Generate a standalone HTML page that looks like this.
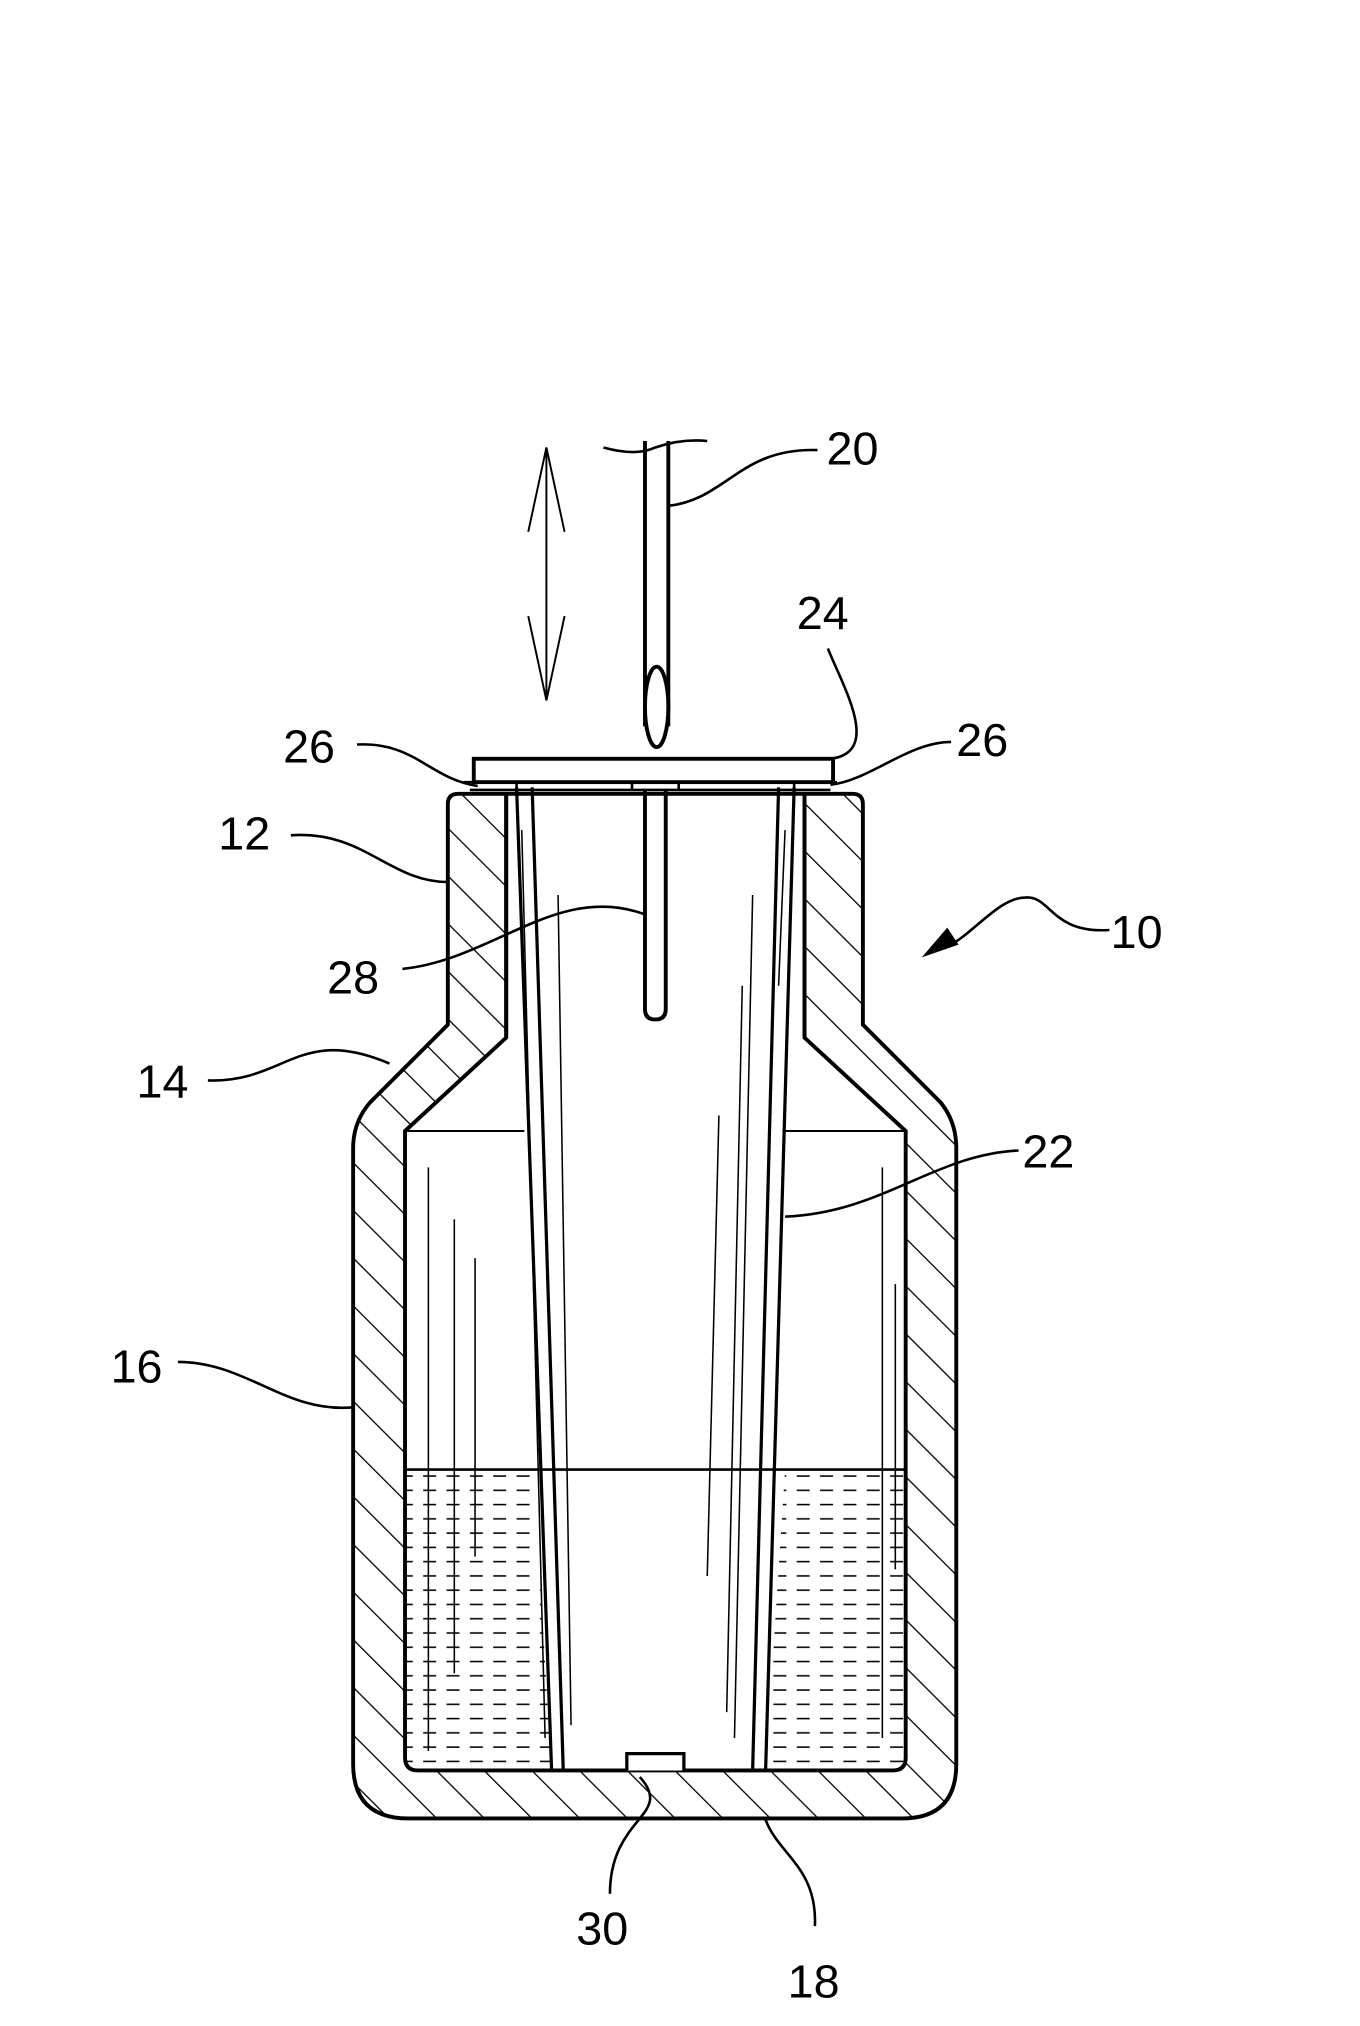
<!DOCTYPE html>
<html><head><style>html,body{margin:0;padding:0;background:#fff}svg{display:block}</style></head>
<body>
<svg width="1360" height="2026" viewBox="0 0 1048 1562" xmlns="http://www.w3.org/2000/svg">
<defs>
<pattern id="h" patternUnits="userSpaceOnUse" width="26" height="26" patternTransform="rotate(-45)">
<line x1="0" y1="0" x2="0" y2="26" stroke="#000" stroke-width="2"/>
</pattern>
<pattern id="d" patternUnits="userSpaceOnUse" width="18" height="11">
<line x1="2" y1="5" x2="12" y2="5" stroke="#000" stroke-width="1.2"/>
</pattern>
<clipPath id="liq"><path d="M312,1133 L698,1133 L698,1365 L590,1365 L605,1133 L411,1133 L425,1365 L312,1365 Z"/></clipPath>
</defs>
<g fill="none" stroke="#000" stroke-width="3">
<path fill="url(#h)" fill-rule="evenodd" d="M353,612 L657,612 Q665,612 665,620 L665,790 L725,850 Q737,865 737,885 L737,1360 Q737,1402 695,1402 L315,1402 Q272,1402 272,1360 L272,885 Q272,865 285,850 L345,790 L345,620 Q345,612 353,612 Z M390,612 L620,612 L620,800 L698,872 L698,1355 Q698,1365 688,1365 L322,1365 Q312,1365 312,1355 L312,872 L390,800 Z"/>
<path d="M390,800 L390,612 M620,800 L620,612" />
<rect x="312" y="1133" width="386" height="232" fill="url(#d)" stroke="none" clip-path="url(#liq)"/>
<line x1="312" y1="1133" x2="698" y2="1133" stroke-width="2"/>
<line x1="312" y1="872" x2="404" y2="872" stroke-width="1.5"/>
<line x1="603" y1="872" x2="698" y2="872" stroke-width="1.5"/>
<path d="M398,607 L425,1365 M410,607 L434,1365 M612,607 L590,1365 M600,607 L580,1365" stroke-width="2.5"/>
<path d="M425,1365 L483,1365 L483,1352 L527,1352 L527,1365 L590,1365" stroke-width="2.5" fill="#fff"/>
<g stroke-width="1.2">
<line x1="402" y1="640" x2="420" y2="1340"/><line x1="430" y1="690" x2="440" y2="1330"/>
<line x1="605" y1="640" x2="600" y2="760"/><line x1="580" y1="690" x2="566" y2="1340"/>
<line x1="572" y1="760" x2="560" y2="1320"/><line x1="554" y1="860" x2="545" y2="1215"/>
<line x1="350" y1="940" x2="350" y2="1290"/><line x1="366" y1="970" x2="366" y2="1200"/>
<line x1="330" y1="900" x2="330" y2="1350"/><line x1="680" y1="900" x2="680" y2="1340"/>
<line x1="690" y1="990" x2="690" y2="1210"/>
</g>
<rect x="365" y="585" width="277" height="18" fill="#fff"/>
<path d="M357,603 L645,603 M362,609 L640,609 M398,603 L398,609 M612,603 L612,609 M487,603 L487,609 M523,603 L523,609" stroke-width="2"/>
<path d="M497,609 L497,778 Q497,786 505,786 Q513,786 513,778 L513,609"/>
<path d="M497,340 L497,560 M515,340 L515,560"/>
<ellipse cx="506" cy="545" rx="9" ry="31" fill="#fff"/>
<path d="M465,345 Q490,352 505,345 Q525,338 545,340" stroke-width="2"/>
<line x1="421" y1="345" x2="421" y2="540" stroke-width="1.5"/>
<path d="M407,410 L421,345 L435,410 M407,475 L421,540 L435,475" stroke-width="1.5"/>
<g stroke-width="2">
<path d="M630,347 C570,345 560,385 515,390"/>
<path d="M638,500 C650,530 680,580 640,585"/>
<path d="M733,572 C700,572 670,602 640,605"/>
<path d="M275,574 C320,572 330,600 368,606"/>
<path d="M224,644 C280,640 300,680 345,680"/>
<path d="M310,747 C380,740 430,680 497,705"/>
<path d="M855,717 C810,720 810,690 790,692 C770,692 750,720 730,730"/>
<path d="M160,833 C220,835 230,790 300,820"/>
<path d="M785,887 C720,890 680,935 605,938"/>
<path d="M137,1050 C190,1050 220,1090 272,1085"/>
<path d="M470,1460 C470,1400 520,1400 493,1370"/>
<path d="M628,1485 C630,1440 600,1430 590,1403"/>
</g>
<path d="M712,737 L730,716 L738,728 Z" fill="#000" stroke-width="1"/>
</g>
<g font-family="Liberation Sans, sans-serif" font-size="36" fill="#000">
<text x="637" y="358">20</text>
<text x="614" y="485">24</text>
<text x="218" y="588">26</text>
<text x="737" y="583">26</text>
<text x="168" y="655">12</text>
<text x="856" y="731">10</text>
<text x="252" y="766">28</text>
<text x="105" y="846">14</text>
<text x="788" y="900">22</text>
<text x="85" y="1066">16</text>
<text x="444" y="1499">30</text>
<text x="607" y="1540">18</text>
</g>
</svg>
</body></html>
